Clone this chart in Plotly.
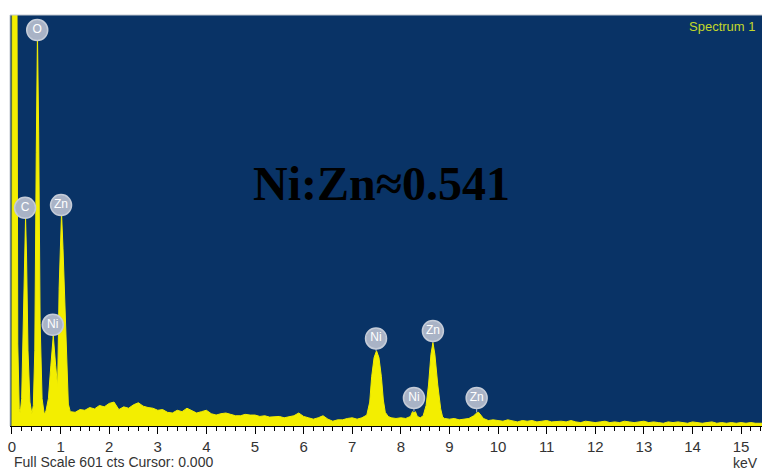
import plotly.graph_objects as go

# ---- spectrum outline (keV, counts) ----
energy_kev = [
    0.000, 0.008, 0.095, 0.12, 0.15, 0.17, 0.20, 0.235, 0.26, 0.28, 0.30, 0.33, 0.37, 0.41,
    0.44, 0.47, 0.50, 0.525, 0.55, 0.58, 0.62, 0.665, 0.70, 0.75, 0.80, 0.85, 0.90, 0.94,
    0.97, 1.00, 1.02, 1.05, 1.09, 1.12, 1.16, 1.20,
    1.3, 1.4, 1.5, 1.6, 1.7, 1.8, 1.9, 2.0, 2.1, 2.2, 2.3, 2.4, 2.5, 2.6, 2.7, 2.8, 2.9,
    3.0, 3.1, 3.2, 3.3, 3.4, 3.5, 3.6, 3.7, 3.8, 3.9, 4.0, 4.1, 4.2, 4.3, 4.4, 4.5, 4.6,
    4.7, 4.8, 4.9, 5.0, 5.1, 5.2, 5.3, 5.4, 5.5, 5.6, 5.7, 5.8, 5.9, 6.0, 6.1, 6.2, 6.3,
    6.4, 6.5, 6.6, 6.7, 6.8, 6.9, 7.0, 7.1, 7.2, 7.3,
    7.36, 7.40, 7.45, 7.50, 7.55, 7.60, 7.64, 7.68, 7.74, 7.8, 7.9, 8.0, 8.1, 8.2,
    8.24, 8.27, 8.30, 8.34, 8.4, 8.46, 8.52, 8.57, 8.62, 8.66, 8.70, 8.76, 8.82, 8.86,
    8.9, 9.0, 9.1, 9.2, 9.3, 9.4, 9.5, 9.56, 9.60, 9.65, 9.7, 9.8, 9.9,
    10.0, 10.1, 10.2, 10.3, 10.4, 10.5, 10.6, 10.7, 10.8, 10.9, 11.0, 11.1, 11.2, 11.3,
    11.4, 11.5, 11.6, 11.7, 11.8, 11.9, 12.0, 12.1, 12.2, 12.3, 12.4, 12.5, 12.6, 12.7,
    12.8, 12.9, 13.0, 13.1, 13.2, 13.3, 13.4, 13.5, 13.6, 13.7, 13.8, 13.9, 14.0, 14.1,
    14.2, 14.3, 14.4, 14.5, 14.6, 14.7, 14.8, 14.9, 15.0, 15.1, 15.2, 15.3, 15.4, 15.45,
]
counts = [
    0, 900, 900, 120, 25, 19, 40, 150, 260, 305, 250, 110, 35, 18,
    30, 110, 400, 575, 430, 150, 40, 17, 22, 40, 88, 132, 88, 57,
    200, 295, 312, 260, 180, 90, 32, 21,
    20, 24, 23, 27, 25, 30, 28, 33, 35, 24, 28, 26, 31, 34, 29, 27, 26,
    23, 24, 20, 19, 23, 21, 26, 22, 19, 21, 23, 18, 16, 18, 19, 17, 15,
    15, 17, 16, 16, 14, 15, 13, 13, 14, 12, 13, 15, 19, 14, 12, 10, 12,
    15, 10, 7, 9, 9, 11, 12, 10, 12, 16,
    35, 72, 100, 110, 100, 72, 38, 20, 14, 12, 11, 12, 11, 14,
    21, 19, 21, 14, 12, 15, 30, 60, 105, 122, 105, 60, 25, 13,
    11, 10, 11, 9, 10, 11, 15, 19, 20, 16, 11, 8, 9,
    8, 7, 9, 7, 6, 8, 7, 8, 6, 7, 8, 6, 7, 7,
    6, 8, 6, 5, 7, 6, 5, 6, 7, 5, 6, 5, 7, 6,
    5, 6, 7, 5, 6, 5, 4, 6, 5, 6, 5, 4, 6, 5,
    4, 5, 6, 4, 5, 4, 5, 4, 5, 4, 5, 4, 4, 4,
]

# ---- element markers ----
label_names = ["O", "C", "Zn", "Ni", "Ni", "Ni", "Zn", "Zn"]
label_kev = [0.52, 0.27, 1.01, 0.84, 7.49, 8.27, 8.66, 9.56]
label_cts = [579, 319, 323, 148, 128, 41, 139, 41]
peak_cts = [575, 305, 312, 132, 110, 21, 122, 20]

x_ticks = list(range(0, 16))
full_scale = 601

BLUE = "rgb(9,51,102)"
YELLOW = "#f3ee00"

fig = go.Figure()
fig.add_trace(go.Scatter(
    x=energy_kev, y=counts, mode="lines",
    line=dict(color=YELLOW, width=1), fill="tozeroy", fillcolor=YELLOW,
    hoverinfo="skip", showlegend=False,
))

stem_x, stem_y = [], []
for e, ly, py in zip(label_kev, label_cts, peak_cts):
    stem_x += [e, e, None]
    stem_y += [ly, py, None]
fig.add_trace(go.Scatter(
    x=stem_x, y=stem_y, mode="lines", line=dict(color="#b4bccb", width=1),
    hoverinfo="skip", showlegend=False,
))
fig.add_trace(go.Scatter(
    x=label_kev, y=label_cts, mode="markers+text", text=label_names,
    textposition="middle center",
    textfont=dict(color="white", size=12, family="Liberation Sans"),
    marker=dict(size=21, color="#a9b3c6", line=dict(color="#c5ccd8", width=1.5)),
    cliponaxis=False, hoverinfo="skip", showlegend=False,
))

fig.update_layout(
    width=762, height=472,
    margin=dict(l=10, r=0, t=15, b=46),
    paper_bgcolor="white", plot_bgcolor=BLUE,
    font=dict(family="Liberation Sans", color="#333"),
    xaxis=dict(
        range=[-0.04, 15.43], tickvals=x_ticks, ticks="outside", ticklen=7,
        tickcolor="black", tickwidth=1, showline=True, linecolor="black",
        linewidth=1, showgrid=False, zeroline=False,
        tickfont=dict(size=15, color="#333"),
        minor=dict(dtick=0.2, tick0=0, ticks="outside", ticklen=4,
                   tickcolor="black", showgrid=False),
    ),
    yaxis=dict(range=[0, full_scale], visible=False, fixedrange=True),
    hovermode=False,
    shapes=[
        dict(type="line", xref="paper", yref="paper", x0=0, x1=1, y0=1, y1=1,
             line=dict(color="#c3c9d0", width=1)),
        dict(type="line", xref="paper", yref="paper", x0=0, x1=0, y0=0, y1=1,
             line=dict(color="#c3c9d0", width=1)),
    ],
    annotations=[
        dict(text="<b>Ni:Zn≈0.541</b>", xref="paper", yref="paper", x=0.4934, y=0.591,
             xanchor="center", yanchor="middle", showarrow=False,
             font=dict(family="Liberation Serif", size=48, color="black")),
        dict(text="Spectrum 1", xref="paper", yref="paper", x=0.9934, y=0.973,
             xanchor="right", yanchor="middle", showarrow=False,
             font=dict(family="Liberation Sans", size=13, color="#c3d82a")),
        dict(text="Full Scale 601 cts Cursor: 0.000", xref="paper", yref="paper",
             x=0.0027, y=-0.088, xanchor="left", yanchor="middle", showarrow=False,
             font=dict(family="Liberation Sans", size=14, color="#333")),
        dict(text="keV", xref="paper", yref="paper", x=0.998, y=-0.09,
             xanchor="right", yanchor="middle", showarrow=False,
             font=dict(family="Liberation Sans", size=14, color="#333")),
    ],
)

fig.write_html(
    "out.html",
    config={"displayModeBar": False, "staticPlot": True},
    post_script="document.body.style.margin='0';document.body.style.padding='0';"
                "document.body.style.overflow='hidden';",
)
